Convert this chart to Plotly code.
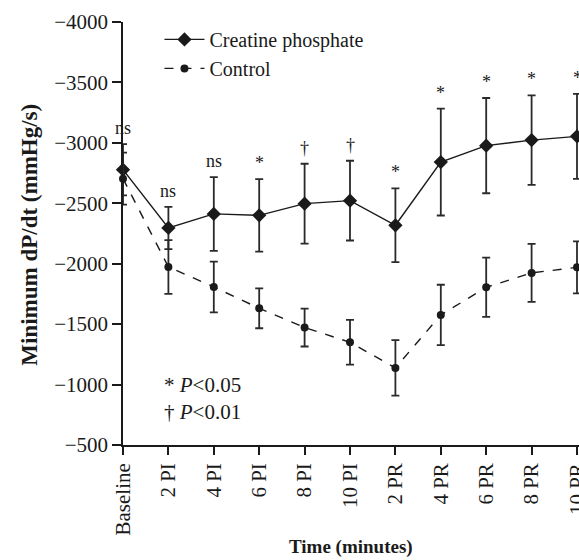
import plotly.graph_objects as go

time_labels = ["Baseline", "2 PI", "4 PI", "6 PI", "8 PI", "10 PI",
               "2 PR", "4 PR", "6 PR", "8 PR", "10 PR"]
cp_mean = [-2778, -2296, -2412, -2400, -2497, -2522, -2318, -2841, -2977, -3023, -3054]
cp_err = [212, 175, 305, 300, 330, 330, 305, 442, 394, 370, 352]
ctl_mean = [-2704, -1973, -1808, -1631, -1472, -1350, -1138, -1576, -1805, -1924, -1970]
ctl_err = [215, 222, 210, 165, 157, 185, 230, 250, 245, 240, 215]
sig_labels = ["ns", "ns", "ns", "*", "†", "†", "*", "*", "*", "*", "*"]
y_ticks = [-4000, -3500, -3000, -2500, -2000, -1500, -1000, -500]

FONT = "Liberation Serif"
INK = "#1a1a1a"

fig = go.Figure()
fig.add_trace(go.Scatter(
    x=time_labels, y=cp_mean, name="Creatine phosphate",
    mode="lines+markers",
    line=dict(color=INK, width=1.4),
    marker=dict(symbol="diamond", size=11, color=INK),
    error_y=dict(type="data", array=cp_err, color="#2a2a2a", thickness=1.8, width=4),
    cliponaxis=False,
))
fig.add_trace(go.Scatter(
    x=time_labels, y=ctl_mean, name="Control",
    mode="lines+markers",
    line=dict(color=INK, width=1.4, dash="dash"),
    marker=dict(symbol="circle", size=8, color=INK),
    error_y=dict(type="data", array=ctl_err, color="#2a2a2a", thickness=1.8, width=4),
    cliponaxis=False,
))

annotations = []
for lab, m, e, s in zip(time_labels, cp_mean, cp_err, sig_labels):
    annotations.append(dict(
        x=lab, y=m - e, xref="x", yref="y", text=s, showarrow=False,
        yanchor="bottom", yshift=4, font=dict(family=FONT, size=18, color=INK)))

annotations.append(dict(
    x=0.085, y=0.141, xref="paper", yref="paper", xanchor="left", yanchor="middle",
    text="* <i>P</i><0.05", showarrow=False, font=dict(family=FONT, size=21, color=INK)))
annotations.append(dict(
    x=0.085, y=0.079, xref="paper", yref="paper", xanchor="left", yanchor="middle",
    text="† <i>P</i><0.01", showarrow=False, font=dict(family=FONT, size=21, color=INK)))

annotations.append(dict(
    x=-0.204, y=0.497, xref="paper", yref="paper", xanchor="center", yanchor="middle",
    text="<b>Minimum dP/dt (mmHg/s)</b>", textangle=-90, showarrow=False,
    font=dict(family=FONT, size=23, color=INK)))
annotations.append(dict(
    x=0.5, y=-0.242, xref="paper", yref="paper", xanchor="center", yanchor="middle",
    text="<b>Time (minutes)</b>", showarrow=False,
    font=dict(family=FONT, size=19, color=INK)))

fig.update_layout(
    width=579, height=560,
    margin=dict(l=123, r=0, t=22, b=115),
    paper_bgcolor="white", plot_bgcolor="white",
    font=dict(family=FONT, size=21, color=INK),
    showlegend=True,
    legend=dict(x=0.08, y=1.005, xanchor="left", yanchor="top",
                bgcolor="rgba(0,0,0,0)", font=dict(family=FONT, size=20, color=INK),
                itemwidth=40, tracegroupgap=0),
    annotations=annotations,
)
fig.update_xaxes(
    type="category", range=[0, 10.044], automargin=False,
    showline=True, linecolor=INK, linewidth=1.5,
    ticks="outside", ticklen=8, tickcolor=INK, tickwidth=1.5,
    tickangle=-90, showgrid=False, zeroline=False,
    tickfont=dict(family=FONT, size=21, color=INK),
)
fig.update_yaxes(
    range=[-500, -4000], tickvals=y_ticks, automargin=False,
    showline=True, linecolor=INK, linewidth=1.5,
    ticks="outside", ticklen=9, tickcolor=INK, tickwidth=1.5,
    showgrid=False, zeroline=False,
    tickfont=dict(family=FONT, size=21, color=INK),
)

fig.write_html("out.html")
